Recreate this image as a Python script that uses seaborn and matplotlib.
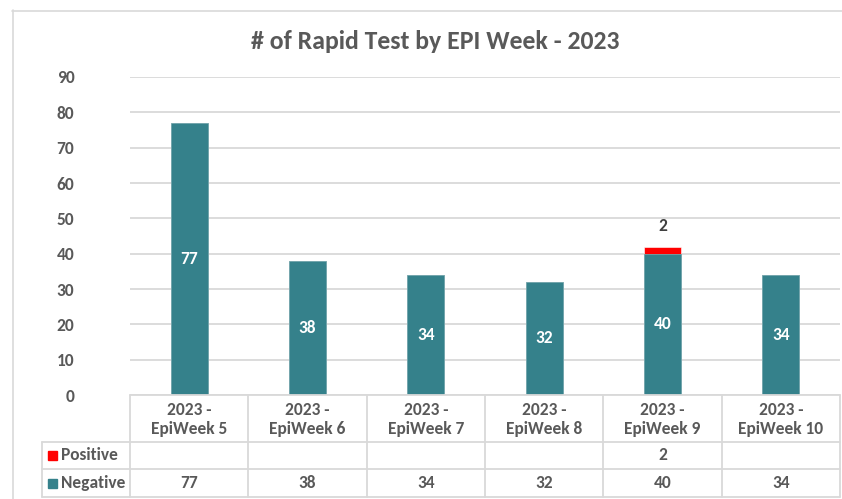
import matplotlib
matplotlib.use("Agg")
import matplotlib.pyplot as plt
import numpy as np
import pandas as pd
import seaborn as sns

weeks = ["2023 -\nEpiWeek 5", "2023 -\nEpiWeek 6", "2023 -\nEpiWeek 7",
         "2023 -\nEpiWeek 8", "2023 -\nEpiWeek 9", "2023 -\nEpiWeek 10"]
negative = [77, 38, 34, 32, 40, 34]
positive = [0, 0, 0, 0, 2, 0]
yticks = [0, 10, 20, 30, 40, 50, 60, 70, 80, 90]

TEAL = "#35818B"
RED = "#FF0000"
TXT = "#595959"
GRID = "#D9D9D9"

sns.set_theme(style="white")
plt.rcParams["font.family"] = ["Carlito", "DejaVu Sans"]
plt.rcParams["font.weight"] = "bold"
FS = 12.5

df = pd.DataFrame({"week": weeks, "negative": negative, "positive": positive})
df["total"] = df["negative"] + df["positive"]

W, H = 842, 499
fig = plt.figure(figsize=(W / 100, H / 100), dpi=100)

def fx(px):
    return px / W

def fy(py):
    return 1 - py / H

# outer chart frame (partly cropped)
fig.add_artist(plt.Line2D([fx(12), fx(842)], [fy(10.5), fy(10.5)], color=GRID, lw=1.2))
fig.add_artist(plt.Line2D([fx(12.5), fx(12.5)], [fy(10), fy(499)], color=GRID, lw=1.2))

left, right, top, bottom = 130, 840, 77, 395
ax = fig.add_axes([fx(left), fy(bottom), fx(right) - fx(left), fy(top) - fy(bottom)])

sns.barplot(data=df, x="week", y="total", color=RED, width=0.31, ax=ax,
            edgecolor="white", linewidth=0.4, saturation=1)
sns.barplot(data=df, x="week", y="negative", color=TEAL, width=0.31, ax=ax,
            edgecolor="#6FA7AE", linewidth=0.6, saturation=1)

ax.set_xlim(-0.5, len(weeks) - 0.5)
ax.set_ylim(0, 90)
ax.set_yticks(yticks)
ax.yaxis.grid(True, color=GRID, lw=1.3)
ax.set_axisbelow(True)
for s in ax.spines.values():
    s.set_visible(False)
ax.set_xlabel("")
ax.set_ylabel("")
ax.set_xticks(range(len(weeks)))
ax.set_xticklabels([])
ax.tick_params(axis="y", length=0, pad=40, labelsize=FS, labelcolor=TXT)
ax.tick_params(axis="x", length=0)
for lab in ax.get_yticklabels():
    lab.set_fontweight("bold")

for i, (n, p) in enumerate(zip(negative, positive)):
    ax.text(i, n / 2, str(n), ha="center", va="center", color="white",
            fontsize=FS, fontweight="bold")
    if p:
        ax.annotate(str(p), (i, n + p), xytext=(0, 9), textcoords="offset points",
                    ha="center", va="bottom", color="#404040", fontsize=FS,
                    fontweight="bold")

ax.set_title("# of Rapid Test by EPI Week - 2023", fontsize=18.5, fontweight="bold",
             color=TXT, x=(fx(435) - fx(left)) / (fx(right) - fx(left)), y=1.0,
             pad=20)

# data table below the plot
tleft = 42
row_y = [395, 442, 469, 497]
cw = (right - left) / len(weeks)
tab = fig.add_axes([0, 0, 1, 1], facecolor="none")
tab.set_xlim(0, W)
tab.set_ylim(H, 0)
tab.axis("off")

lc = dict(color=GRID, lw=1.3)
tab.plot([left, right], [row_y[0], row_y[0]], **lc)
for y in row_y[1:]:
    tab.plot([tleft, right], [y, y], **lc)
for i in range(len(weeks) + 1):
    x = left + i * cw
    tab.plot([x, x], [row_y[0], row_y[-1]], **lc)
tab.plot([tleft, tleft], [row_y[1], row_y[-1]], **lc)

for i, wk in enumerate(weeks):
    cx = left + (i + 0.5) * cw
    tab.text(cx, (row_y[0] + row_y[1]) / 2 + 1, wk, ha="center", va="center",
             color=TXT, fontsize=FS, fontweight="bold", linespacing=1.25)
    if positive[i]:
        tab.text(cx, (row_y[1] + row_y[2]) / 2, str(positive[i]), ha="center",
                 va="center", color=TXT, fontsize=FS, fontweight="bold")
    tab.text(cx, (row_y[2] + row_y[3]) / 2, str(negative[i]), ha="center",
             va="center", color=TXT, fontsize=FS, fontweight="bold")

for (name, col), (y0, y1) in zip([("Positive", RED), ("Negative", TEAL)],
                                 [(row_y[1], row_y[2]), (row_y[2], row_y[3])]):
    cy = (y0 + y1) / 2
    tab.add_patch(plt.Rectangle((48, cy - 4.5), 9, 9, color=col))
    tab.text(61, cy, name, ha="left", va="center", color=TXT, fontsize=FS,
             fontweight="bold")

fig.savefig("out.png", dpi=100)
